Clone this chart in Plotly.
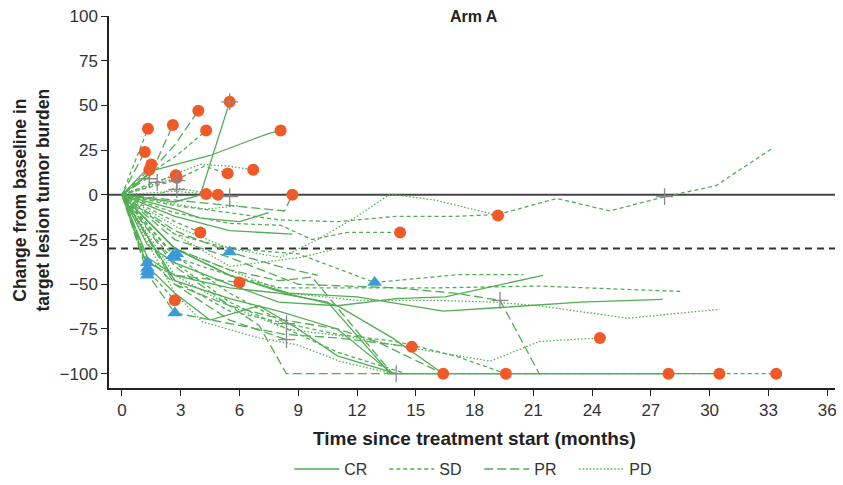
import plotly.graph_objects as go

# ---------------- data (months, % change) ----------------
CR_T = [[0, 1.5], [0, 1.4, 2.7, 4.0, 5.5], [0, 1.7, 4.5, 7.4, 8.1],
        [0, 2.7, 5.5, 8.3, 11, 13.8, 16.4, 19.6, 24, 27.9],
        [0, 2.7, 5.5, 8, 11, 13.8, 19.6, 25, 30.5],
        [0, 1.3, 2.7, 5.5, 8, 10.5, 13.7, 16.4],
        [0, 1.3, 2.7, 5.5, 8.0, 11, 14, 16.5, 21.5],
        [0, 2.7, 5.5, 8.5, 12, 16.4, 19.3, 23.4, 27.6],
        [0, 2.7, 5.5, 8.7], [0, 1.3, 2.7, 4.5, 7, 9, 11, 14],
        [0, 2.7, 4.0, 6.0, 7.5]]
CR_V = [[0, 17], [0, -2, -4, 0, 52], [0, 14, 22, 34, 36],
        [0, -30, -45, -55, -62, -80, -100, -100, -100, -100],
        [0, -48, -58, -65, -75, -100, -100, -100, -100],
        [0, -35, -45, -52, -55, -60, -100, -100],
        [0, -28, -38, -50, -60, -62, -58, -57, -45],
        [0, -30, -45, -55, -57, -65, -63, -60, -58.5],
        [0, -12, -20, -22], [0, -40, -55, -70, -62, -75, -90, -100],
        [0, -8, -13, -15, -10]]

SD_T = [[0, 1.33], [0, 1.4], [0, 1.4, 2.75], [0, 1.4, 2.8, 4.3], [0, 2.7, 4.2, 5.4],
        [0, 1.4, 2.7, 4.0], [0, 2.7, 5.5, 8.1, 9.7, 11.5, 14.2],
        [0, 2.7, 5.5, 8, 11, 14, 17, 19.2, 22.2, 24.9, 27.7, 30.3, 33.2],
        [0, 1.3, 2.7], [0, 2.7, 5.5, 8.4, 11, 14, 17, 19.6],
        [0, 2.7, 5.5, 8.4, 11, 14.5, 20, 27, 30.5, 33.4],
        [0, 2.7, 5.5, 9.0, 12.9, 17.2, 20.5],
        [0, 2.7, 5.5, 8.1, 12, 16, 21.3, 28.5], [0, 2.7, 5.5, 8.4]]
SD_V = [[0, 37], [0, 14], [0, 6, 11], [0, 12, 22, 36], [0, 8, 16, 12],
        [0, -8, -15, -21], [0, -10, -16, -17, -25, -21, -21],
        [0, -6, -10, -14, -15, -12, -12, -11, -2, -9, -1, 5, 26],
        [0, -42, -59], [0, -34, -55, -72, -78, -82, -90, -100],
        [0, -38, -60, -75, -88, -100, -100, -100, -100, -100],
        [0, -22, -30, -33, -49, -44.6, -44.6],
        [0, -35, -45, -52, -52, -52, -51, -54], [0, -48, -65, -72]]

PR_T = [[0, 1.17], [0, 1.4, 2.6], [0, 1.4, 2.7, 3.9], [0, 2.7, 5.5, 8.3, 8.7],
        [0, 1.3, 2.7, 6.0], [0, 1.3, 2.7, 5.5, 8.3, 11, 14.8],
        [0, 2.7, 5.5, 8.3, 11, 13, 16.4], [0, 2.7, 5.5, 7.0, 8.4, 13.8],
        [0, 2.7, 5.5, 8.0, 9.7, 13.8],
        [0, 2.7, 5.5, 9, 14, 17, 19.3, 19.6, 21.3],
        [0, 1.3, 2.7, 5.5, 8.4], [0, 2.7, 5.5, 8, 10]]
PR_V = [[0, 24], [0, 10, 39], [0, 12, 28, 47], [0, -3, -6, -9, 0],
        [0, -38, -45, -49], [0, -44, -66, -72, -78, -80, -85],
        [0, -40, -62, -70, -75, -82, -100], [0, -50, -62, -73, -100, -100],
        [0, -30, -42, -48, -46, -100],
        [0, -25, -35, -50, -52, -55, -59, -65, -100],
        [0, -35, -50, -70, -81], [0, -20, -32, -40, -45]]

PD_T = [[0, 1.4, 2.8], [0, 1.4, 2.8, 4.0, 5.5, 6.7], [0, 2.7, 4.3], [0, 1.4, 2.7, 4.9],
        [0, 2.8, 5.5, 8.1, 10, 12, 13.7, 16, 19.2],
        [0, 2.7, 5.5, 8.5, 12, 16, 19, 21.3, 25.8, 30.5],
        [0, 2.7, 5.5, 8.4, 12, 15, 18.8, 21.3, 24.4],
        [0, 2.7, 4.1, 7, 9, 11.1, 13.8], [0, 2.7, 5.5, 9.1, 11], [0, 2.7, 4.3, 6]]
PD_V = [[0, 5, 9.5], [0, 5, 12, 17, 16, 14], [0, 2, 0.5], [0, -2, 4, 0],
        [0, -18, -30, -35, -25, -12, 0.5, -3, -11.5],
        [0, -30, -42, -55, -59, -59, -60, -62, -69, -64],
        [0, -45, -62, -75, -80, -86, -93, -82, -80],
        [0, -55, -71, -80, -84, -93, -100], [0, -22, -40, -35, -30], [0, -5, -8, -6]]

CIRCLE_T = [1.33, 1.17, 1.5, 1.4, 2.6, 2.75, 2.8, 3.9, 4.3, 5.5, 5.4, 6.7, 8.1, 4.3, 4.9,
            8.7, 4.0, 14.2, 19.2, 6.0, 2.7, 14.8, 16.4, 19.6, 24.4, 27.9, 30.5, 33.4]
CIRCLE_V = [37, 24, 17, 14, 39, 11, 9.5, 47, 36, 52, 12, 14, 36, 0.5, 0,
            0, -21, -21, -11.5, -49, -59, -85, -100, -100, -80, -100, -100, -100]
TRI_T = [1.3, 1.3, 1.3, 1.3, 2.6, 2.8, 2.7, 5.5, 2.7, 12.9]
TRI_V = [-38, -41, -43, -45, -34, -33, -35, -32, -66, -49]
CROSS_T = [1.4, 1.8, 2.8, 2.8, 5.5, 5.5, 27.7, 19.3, 8.4, 8.4, 14]
CROSS_V = [9, 7, 8, 3, -1, 52, -1, -59, -72, -81, -100]

X_TICKS = [0, 3, 6, 9, 12, 15, 18, 21, 24, 27, 30, 33, 36]
Y_TICKS = [100, 75, 50, 25, 0, -25, -50, -75, -100]
THRESHOLD = -30

GREEN = "#52ad55"
FONT = "Liberation Sans, Arial, sans-serif"

fig = go.Figure()

groups = [("CR", CR_T, CR_V, "solid"), ("SD", SD_T, SD_V, "4px,3px"),
          ("PR", PR_T, PR_V, "9px,4px"), ("PD", PD_T, PD_V, "1.5px,2px")]
for name, TT, VV, dash in groups:
    for i, (t, v) in enumerate(zip(TT, VV)):
        fig.add_trace(go.Scatter(x=t, y=v, mode="lines", name=name, legendgroup=name,
                                 showlegend=(i == 0),
                                 line=dict(color=GREEN, width=1.3, dash=dash)))

fig.add_trace(go.Scatter(x=CIRCLE_T, y=CIRCLE_V, mode="markers", showlegend=False,
                         marker=dict(symbol="circle", size=12, color="#f05a28")))
fig.add_trace(go.Scatter(x=TRI_T, y=TRI_V, mode="markers", showlegend=False,
                         marker=dict(symbol="triangle-up", size=13, color="#3d9ad9")))
fig.add_trace(go.Scatter(x=CROSS_T, y=CROSS_V, mode="markers", showlegend=False,
                         marker=dict(symbol="cross-thin", size=12,
                                     line=dict(color="#888888", width=1.3))))

fig.add_shape(type="line", xref="paper", x0=0, x1=1, yref="y", y0=0, y1=0,
              line=dict(color="#454545", width=2), layer="below")
fig.add_shape(type="line", xref="paper", x0=0, x1=1, yref="y", y0=THRESHOLD, y1=THRESHOLD,
              line=dict(color="#333333", width=2, dash="7px,5px"), layer="below")

fig.add_annotation(text="<b>Arm A</b>", xref="paper", yref="paper", x=0.503, y=1.0,
                   xanchor="center", yanchor="middle", showarrow=False,
                   font=dict(family=FONT, size=16, color="#222"))
fig.add_annotation(text="<b>Change from baseline in<br>target lesion tumor burden</b>",
                   xref="paper", yref="paper", x=-0.107, y=0.505, textangle=-90,
                   xanchor="center", yanchor="middle", showarrow=False,
                   font=dict(family=FONT, size=17.5, color="#222"))
fig.add_annotation(text="<b>Time since treatment start (months)</b>",
                   xref="paper", yref="paper", x=0.503, y=-0.135,
                   xanchor="center", yanchor="middle", showarrow=False,
                   font=dict(family=FONT, size=19, color="#222"))

fig.update_layout(
    width=843, height=485,
    margin=dict(l=109, r=8, t=16, b=97, autoexpand=False),
    plot_bgcolor="white", paper_bgcolor="white",
    font=dict(family=FONT, size=17, color="#333"),
    legend=dict(orientation="h", x=0.51, y=-0.218, xanchor="center", yanchor="middle",
                font=dict(size=16, color="#333"), itemwidth=45,
                entrywidth=35, entrywidthmode="pixels"),
)
fig.update_xaxes(range=[-0.66, 36.4], tickvals=X_TICKS, showgrid=False, zeroline=False,
                 showline=True, linecolor="#222", linewidth=1.5, ticks="outside",
                 ticklen=6, tickcolor="#222", tickfont=dict(size=17, color="#333"),
                 automargin=False, ticklabeloverflow="allow")
fig.update_yaxes(range=[-108, 100], tickvals=Y_TICKS, showgrid=False, zeroline=False,
                 showline=True, linecolor="#222", linewidth=1.5, ticks="outside",
                 ticklen=6, tickcolor="#222", tickfont=dict(size=17, color="#333"),
                 tickformat="d", automargin=False, ticklabeloverflow="allow")

fig.write_html("out.html", config={"displayModeBar": False},
               post_script="document.body.style.margin='0';document.body.style.overflow='hidden';")
